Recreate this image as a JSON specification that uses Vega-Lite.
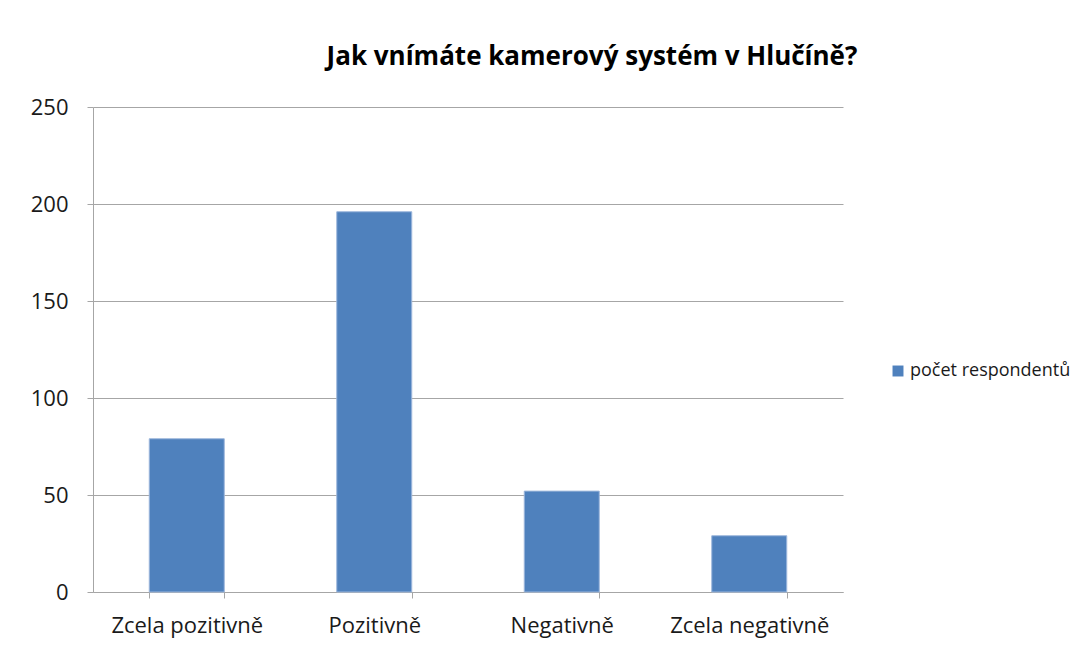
{
  "$schema": "https://vega.github.io/schema/vega-lite/v6.json",
  "autosize": "none",
  "width": 750,
  "height": 485,
  "padding": {"left": 93, "top": 107, "right": 236, "bottom": 58},
  "background": "white",
  "config": {
    "font": "Open Sans",
    "view": {"stroke": null}
  },
  "title": {
    "text": "Jak vnímáte kamerový systém v Hlučíně?",
    "fontSize": 26,
    "fontWeight": "bold",
    "color": "#000000",
    "anchor": "middle",
    "dx": 124,
    "offset": 26,
    "font": "Open Sans"
  },
  "data": {
    "values": [
      {"kategorie": "Zcela pozitivně", "serie": "počet respondentů", "pocet": 79},
      {"kategorie": "Pozitivně", "serie": "počet respondentů", "pocet": 196},
      {"kategorie": "Negativně", "serie": "počet respondentů", "pocet": 52},
      {"kategorie": "Zcela negativně", "serie": "počet respondentů", "pocet": 29}
    ]
  },
  "mark": {"type": "bar", "stroke": "#9db7dc", "strokeWidth": 1},
  "encoding": {
    "x": {
      "field": "kategorie",
      "type": "nominal",
      "sort": null,
      "title": null,
      "scale": {"paddingInner": 0.6, "paddingOuter": 0.3},
      "axis": {
        "labelAngle": 0,
        "labelFontSize": 22,
        "labelColor": "#1a1a1a",
        "labelPadding": 17,
        "labelLimit": 300,
        "tickBand": "extent",
        "tickSize": 6,
        "tickColor": "#a6a6a6",
        "domainColor": "#a6a6a6",
        "grid": false
      }
    },
    "y": {
      "field": "pocet",
      "type": "quantitative",
      "title": null,
      "scale": {"domain": [0, 250]},
      "axis": {
        "values": [0, 50, 100, 150, 200, 250],
        "labelFontSize": 22,
        "labelColor": "#1a1a1a",
        "labelPadding": 19,
        "tickSize": 6,
        "tickColor": "#a6a6a6",
        "domainColor": "#a6a6a6",
        "gridColor": "#a6a6a6",
        "gridWidth": 1
      }
    },
    "color": {
      "field": "serie",
      "type": "nominal",
      "scale": {"range": ["#4f81bd"]},
      "legend": {
        "title": null,
        "orient": "none",
        "legendX": 796,
        "legendY": 255,
        "symbolType": "square",
        "symbolSize": 120,
        "symbolStrokeWidth": 0,
        "labelFontSize": 18,
        "labelLimit": 300,
        "labelColor": "#1a1a1a",
        "labelOffset": 3
      }
    }
  }
}
